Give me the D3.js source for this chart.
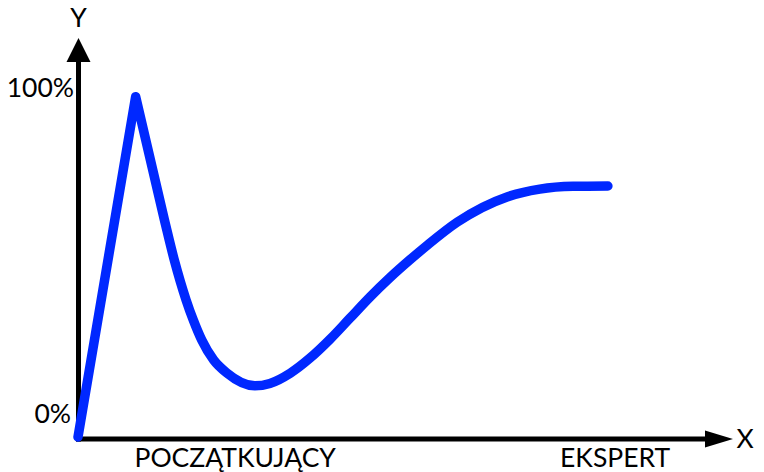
<!DOCTYPE html>
<html>
<head>
<meta charset="utf-8">
<script src="https://cdn.jsdelivr.net/npm/d3@7"></script>
<style>
  body { margin: 0; background: #fff; }
  svg text { font-family: Lato, "Open Sans", sans-serif; fill: #000; }
</style>
</head>
<body>
<div id="chart"></div>
<script>
// Curve values (x: experience 0-100, y: confidence 0-100)
var curveX = [0, 8.8, 13.2, 14.7, 16.5, 17.6, 18.9, 20.7, 22.7, 27.0, 29.3, 32.4, 35.4,
              38.5, 41.5, 44.6, 47.6, 50.7, 53.3, 57.9, 65.5, 70.5, 75.6, 80.9];
var curveY = [0, 99.8, 63.6, 51.9, 40.2, 34.3, 28.4, 22.6, 18.8, 15.0, 15.7, 18.7, 23.1,
              28.7, 34.8, 41.1, 46.7, 52.0, 56.2, 63.0, 70.4, 72.7, 73.5, 73.6];

// Axis labels
var xCategories = ["POCZĄTKUJĄCY", "EKSPERT"];
var xCategoryAt = [24, 82];
var yTickValues = [0, 100];
var yTickLabels = ["0%", "100%"];
var xAxisName = "X";
var yAxisName = "Y";

var width = 764,
    height = 472;

var originX = 78.5,
    originY = 439;

var fontSize = "26.5px";

// Scales
var xScale = d3.scaleLinear().domain([0, 100]).range([78, 733]);
var yScale = d3.scaleLinear().domain([0, 100]).range([437, 96]);

var svg = d3.select("#chart").append("svg")
  .attr("width", width)
  .attr("height", height);

// Axes lines with arrow heads
var axes = svg.append("g").attr("class", "axes");

axes.append("line")
  .attr("x1", originX).attr("y1", originY + 2.5)
  .attr("x2", originX).attr("y2", 60)
  .attr("stroke", "#000")
  .attr("stroke-width", 5);

axes.append("line")
  .attr("x1", originX - 2.5).attr("y1", originY)
  .attr("x2", 708).attr("y2", originY)
  .attr("stroke", "#000")
  .attr("stroke-width", 5);

// y arrow
axes.append("path")
  .attr("d", "M" + originX + ",38L" + (originX + 12) + ",62L" + (originX - 12) + ",62Z")
  .attr("fill", "#000");

// x arrow
axes.append("path")
  .attr("d", "M733," + originY + "L705," + (originY - 8.5) + "L705," + (originY + 8.5) + "Z")
  .attr("fill", "#000");

// Axis names
svg.append("text")
  .attr("x", originX)
  .attr("y", 27)
  .attr("text-anchor", "middle")
  .style("font-size", fontSize)
  .text(yAxisName);

svg.append("text")
  .attr("x", 745)
  .attr("y", 448)
  .attr("text-anchor", "middle")
  .style("font-size", fontSize)
  .text(xAxisName);

// y tick labels
svg.append("g").selectAll("text")
  .data(yTickValues)
  .enter().append("text")
    .attr("x", function(d) { return d === 0 ? 71 : 74; })
    .attr("y", function(d) { return d === 0 ? yScale(d) - 14 : yScale(d) + 1; })
    .attr("text-anchor", "end")
    .style("font-size", fontSize)
    .text(function(d, i) { return yTickLabels[i]; });

// x category labels
svg.append("g").selectAll("text")
  .data(xCategories)
  .enter().append("text")
    .attr("x", function(d, i) { return xScale(xCategoryAt[i]); })
    .attr("y", 467)
    .attr("text-anchor", "middle")
    .style("font-size", fontSize)
    .text(function(d) { return d; });

// The curve: a straight climb to the peak, then a smooth line
var points = curveX.map(function(x, i) { return [xScale(x), yScale(curveY[i])]; });

var straight = d3.line().curve(d3.curveLinear);
var smooth = d3.line().curve(d3.curveMonotoneX);

var pathD = straight(points.slice(0, 2)) + smooth(points.slice(1)).replace(/^M/, "L");

svg.append("path")
  .attr("d", pathD)
  .attr("fill", "none")
  .attr("stroke", "#0028ff")
  .attr("stroke-width", 9.5)
  .attr("stroke-linecap", "round")
  .attr("stroke-linejoin", "round");
</script>
</body>
</html>
